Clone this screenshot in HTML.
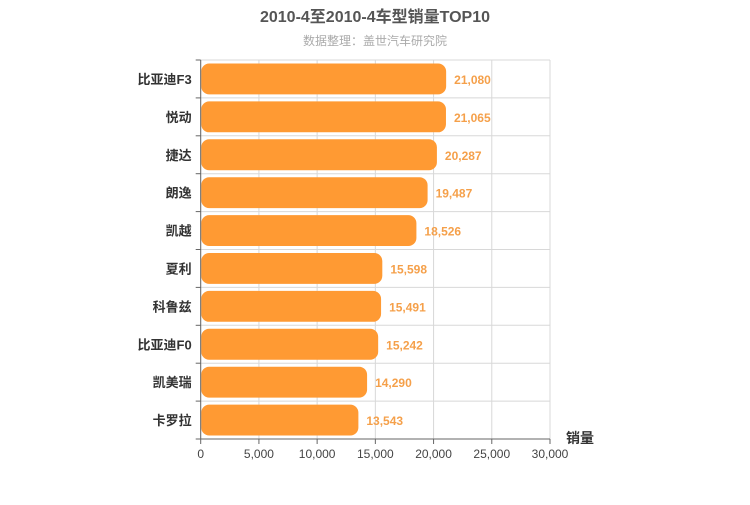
<!DOCTYPE html>
<html><head><meta charset="utf-8"><style>
body{margin:0;background:#fff;}
svg{font-family:"Liberation Sans","Noto Sans CJK SC",sans-serif;}
</style></head><body>
<svg id="c" width="750" height="500">
<text x="375" y="22" text-anchor="middle" font-size="16" font-weight="bold" fill="#555">2010-4至2010-4车型销量TOP10</text>
<text x="375" y="45" text-anchor="middle" font-size="12" fill="#aaa">数据整理：盖世汽车研究院</text>
<g id="grid"></g><g id="bars"></g><g id="axes"></g>
<text x="580" y="443" text-anchor="middle" font-size="14" font-weight="bold" fill="#333">销量</text>
</svg>
<script>
const categories=["比亚迪F3","悦动","捷达","朗逸","凯越","夏利","科鲁兹","比亚迪F0","凯美瑞","卡罗拉"];
const sales=[21080,21065,20287,19487,18526,15598,15491,15242,14290,13543];
const xTicks=[0,5000,10000,15000,20000,25000,30000];
const X0=200.7,X1=550,Y0=60,Y1=439,MAX=30000;
const ns="http://www.w3.org/2000/svg";
const x=v=>X0+(X1-X0)*v/MAX;
const rowH=(Y1-Y0)/categories.length;
function mk(t,a,p,txt){const e=document.createElementNS(ns,t);for(const k in a)e.setAttribute(k,a[k]);if(txt!=null)e.textContent=txt;p.appendChild(e);return e;}
const g=document.getElementById('grid'),b=document.getElementById('bars'),ax=document.getElementById('axes');
xTicks.forEach(t=>{
 const l=mk('line',{x1:x(t),x2:x(t),y1:Y0,y2:Y1,stroke:'#d8d8d8'},g);
 
 
 const tk=mk('line',{x1:x(t),x2:x(t),y1:Y1,y2:Y1+5,stroke:'#666'},ax);
 
 
 const tl=mk('text',{x:x(t),y:Y1+19,'text-anchor':'middle','font-size':12,fill:'#444'},ax,t.toLocaleString('en-US'));
 
 
});
for(let i=0;i<=categories.length;i++){
 const y=Y0+i*rowH;
 const l=mk('line',{x1:X0,x2:X1,y1:y,y2:y,stroke:'#d8d8d8'},g);
 
 
 const tk=mk('line',{x1:X0-5,x2:X0,y1:y,y2:y,stroke:'#666'},ax);
 
 
}
categories.forEach((c,i)=>{
 const y=Y0+i*rowH;
 const r=mk('rect',{x:X0+0.5,y:y+3.5,width:x(sales[i])-X0-0.5,height:rowH-7,rx:8,fill:'#ff9a33'},b);
 
 
 const v=mk('text',{x:x(sales[i])+8,y:y+rowH/2+5,'font-size':12,'font-weight':'bold',fill:'#f5a04a'},b,sales[i].toLocaleString('en-US'));
 
 
 const t=mk('text',{x:X0-9,y:y+rowH/2+5,'text-anchor':'end','font-size':13,'font-weight':'bold',fill:'#333'},ax,c);
 
 
});
const a1=mk('line',{x1:X0,x2:X0,y1:Y0,y2:Y1,stroke:'#666'},ax);


const a2=mk('line',{x1:X0,x2:X1,y1:Y1,y2:Y1,stroke:'#666'},ax);


</script>
</body></html>
